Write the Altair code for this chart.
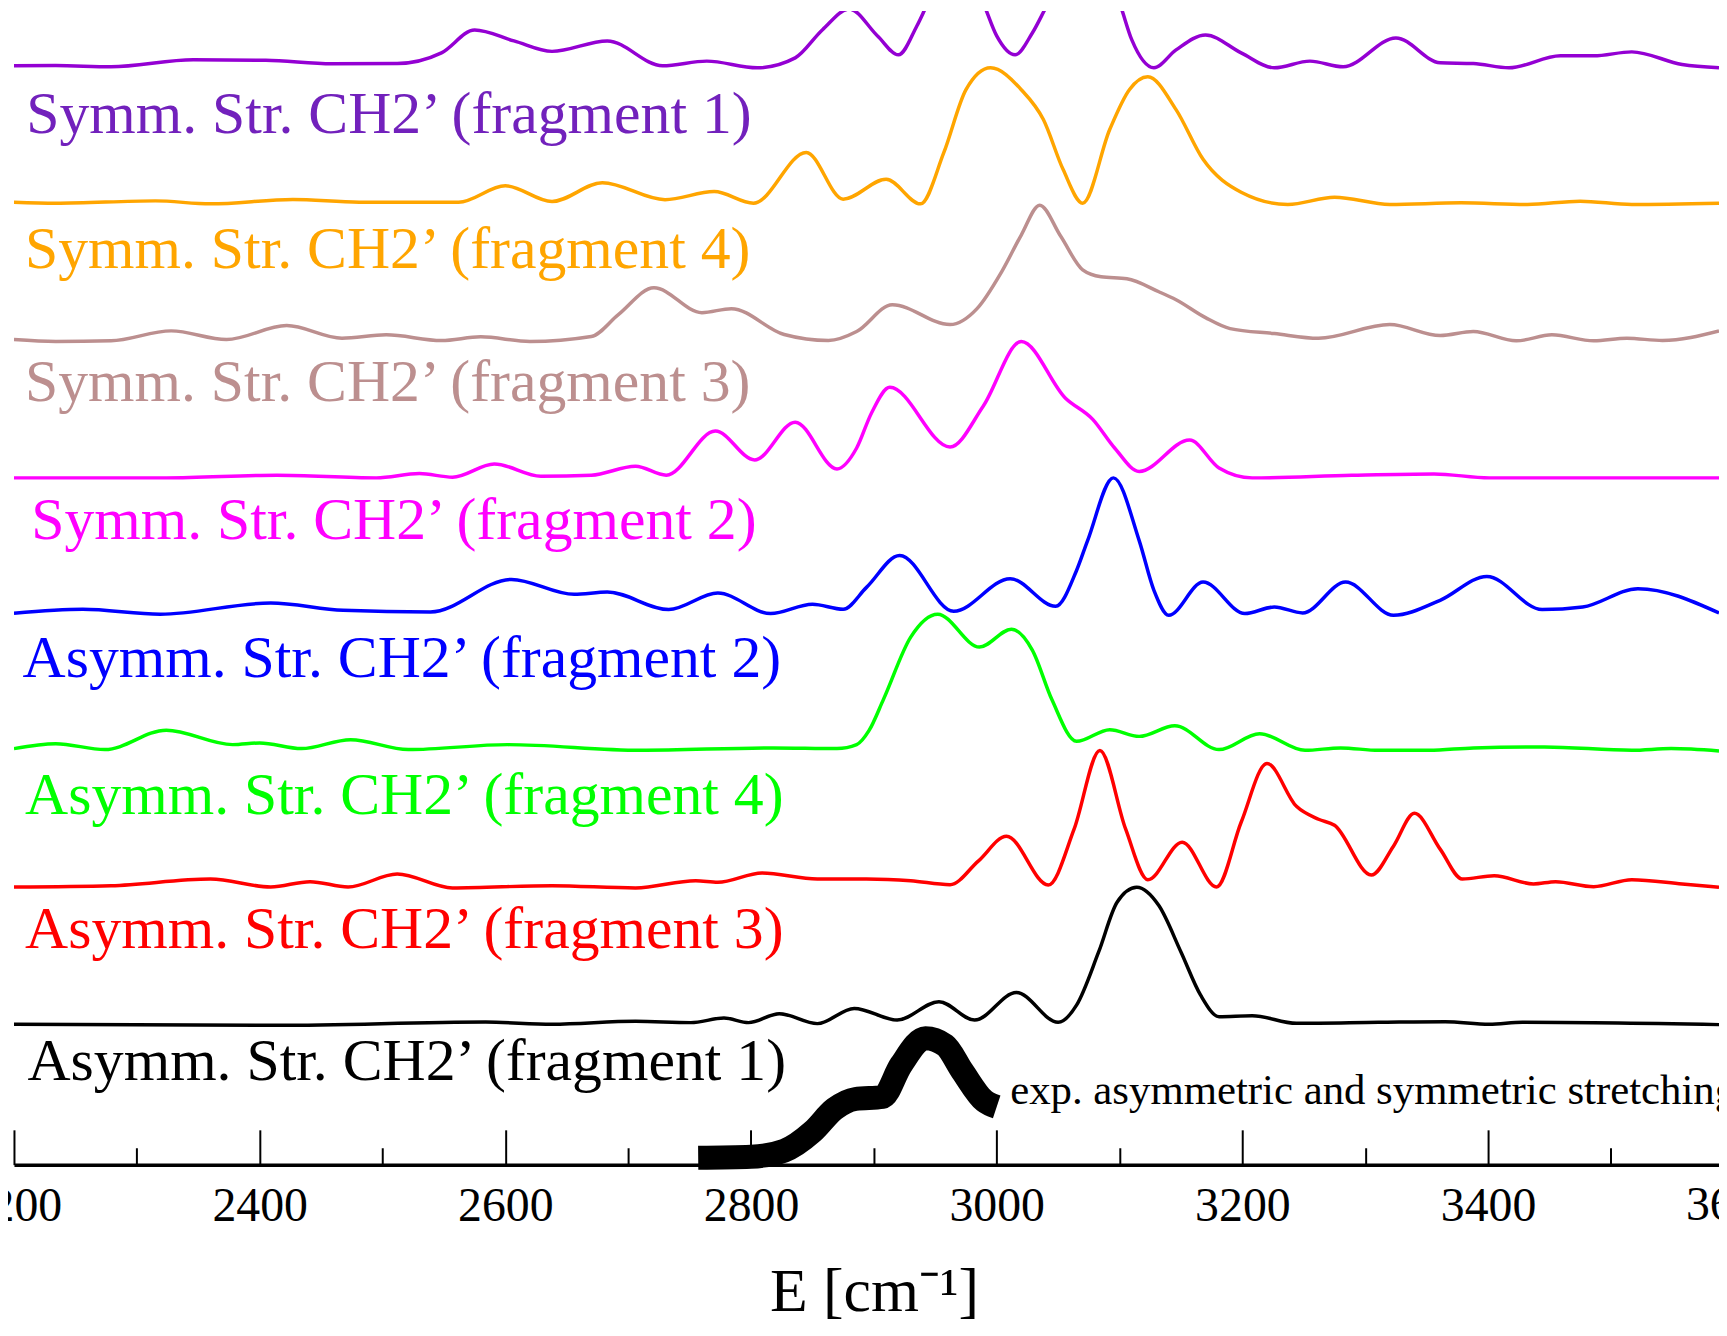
import altair as alt
import pandas as pd

FONT = "Liberation Serif"

# ---- axis ----
XMIN, XMAX = 2200, 3588
TICK_VALUES = [2200, 2400, 2600, 2800, 3000, 3200, 3400, 3600]
MINOR_TICKS = [2300, 2500, 2700, 2900, 3100, 3300, 3500]
X_TITLE = "E [cm\u207b\u00b9]"

# ---- series (top to bottom) ----
SERIES_NAMES = [
    "Symm. Str. CH2\u2019 (fragment 1)",
    "Symm. Str. CH2\u2019 (fragment 4)",
    "Symm. Str. CH2\u2019 (fragment 3)",
    "Symm. Str. CH2\u2019 (fragment 2)",
    "Asymm. Str. CH2\u2019 (fragment 2)",
    "Asymm. Str. CH2\u2019 (fragment 4)",
    "Asymm. Str. CH2\u2019 (fragment 3)",
    "Asymm. Str. CH2\u2019 (fragment 1)",
]
LINE_COLORS = ["#9400D3", "#FFA500", "#BC8F8F", "#FF00FF", "#0000FF", "#00FF00", "#FF0000", "#000000"]
TEXT_COLORS = ["#7221BC", "#FFA500", "#BC8F8F", "#FF00FF", "#0000FF", "#00FF00", "#FF0000", "#000000"]
OFFSETS = [1104, 967, 829, 690, 554, 418, 279, 141]
LABEL_X = [2210, 2209, 2209, 2214, 2207, 2209, 2209, 2211]
LABEL_Y = [1036, 901, 767, 629, 490, 352, 218, 85]

# ---- spectra (wavenumber, intensity above own baseline) ----
PURPLE_WN = [2200, 2234, 2279, 2346, 2405, 2459, 2512, 2548, 2575, 2607, 2638, 2683, 2728, 2764, 2805,
             2836, 2858, 2880, 2903, 2920, 2935, 2944, 2966, 2989, 3000, 3015, 3029, 3042, 3071, 3100,
             3110, 3128, 3146, 3170, 3199, 3226, 3255, 3282, 3325, 3361, 3388, 3417, 3459, 3486, 3517,
             3558, 3588]
PURPLE_VAL = [0, 0.3, -1, 6, 5.5, 2, 2.3, 13, 36, 25, 14.5, 25, 0, 4.7, -2,
              8, 36, 57, 30, 11, 40, 63, 110, 63, 30, 11, 33, 63, 115, 63,
              26, -2, 16, 31, 13, -2, 4.7, -1, 28, 3, 2.3, -2, 10, 10, 14,
              1.3, -2]

ORANGE_WN = [2200, 2234, 2315, 2360, 2427, 2481, 2562, 2600, 2638, 2679, 2730, 2770, 2802, 2845, 2875,
             2910, 2938, 2957, 2975, 2995, 3020, 3038, 3054, 3070, 3092, 3108, 3123, 3146, 3168, 3199,
             3237, 3275, 3320, 3378, 3432, 3475, 3517, 3588]
ORANGE_VAL = [0, -1, 1.3, -1.7, 2.7, 0, 0, 16.5, 0.7, 19.5, 2.5, 10.7, -1, 50, 3,
              23, -1.7, 50, 113, 135, 113, 83, 33, -1, 73, 113, 126, 93, 43, 10,
              -2.3, 5, -2.3, -0.7, -2.3, 1, -2.3, -1]

BROWN_WN = [2200, 2234, 2279, 2328, 2373, 2422, 2467, 2503, 2548, 2580, 2620, 2670, 2692, 2721, 2760,
            2784, 2827, 2863, 2886, 2915, 2962, 2984, 3004, 3020, 3035, 3052, 3070, 3085, 3106, 3132,
            3146, 3170, 3190, 3226, 3262, 3320, 3361, 3388, 3423, 3452, 3486, 3513, 3542, 3588]
BROWN_VAL = [0, -2, -1.3, 8.7, 0, 14, 1.3, 4.7, -1, 2.7, -2, 3, 25, 52, 27,
             31, 5, -1, 8, 35, 15, 31, 68, 105, 135, 104, 70, 63, 61, 48,
             40, 22, 11, 6, 1.3, 15, 4, 8, -1.3, 4.7, -1.3, 1.3, -1, 8.7]

MAGENTA_WN = [2200, 2324, 2414, 2495, 2530, 2557, 2591, 2629, 2670, 2706, 2731, 2771, 2803, 2836, 2870,
              2886, 2898, 2913, 2962, 2989, 3020, 3056, 3078, 3096, 3116, 3157, 3181, 3208, 3289, 3356,
              3401, 3588]
MAGENTA_VAL = [0, 0, 2.7, 0, 4.3, 0.7, 14, 1.7, 2.7, 11.7, 2.7, 47, 18, 56, 9,
               30, 65, 91, 31, 72, 137, 80, 59, 30, 6.5, 38, 10, 0, 2.7, 4,
               0, 0]

BLUE_WN = [2200, 2256, 2319, 2409, 2468, 2539, 2605, 2656, 2683, 2733, 2773, 2816, 2850, 2875, 2894,
           2921, 2965, 3011, 3048, 3065, 3074, 3095, 3116, 3128, 3140, 3168, 3202, 3226, 3249, 3284,
           3323, 3361, 3399, 3444, 3477, 3522, 3588]
BLUE_VAL = [0, 4, -1, 10.3, 3, 1.3, 34, 19, 21.3, 3.7, 20.3, -0.3, 9, 4, 26,
            58, 2, 34.7, 7, 43, 73, 136, 73, 23, -2, 31.3, -0.3, 6.3, 0.3, 31.3,
            -2, 13, 37, 3.7, 6.3, 24.7, 0.3]

GREEN_WN = [2200, 2234, 2274, 2324, 2378, 2400, 2434, 2474, 2521, 2602, 2710, 2818, 2870, 2886, 2896,
            2908, 2930, 2952, 2986, 3012, 3029, 3045, 3065, 3092, 3116, 3145, 3181, 3214, 3251, 3280,
            3311, 3352, 3388, 3446, 3517, 3549, 3588]
GREEN_VAL = [0, 5, -1, 18.5, 4, 5.7, 0, 9, -1, 4, -1.7, 0.7, 0, 4, 18,
             50, 112, 135, 102, 120, 99, 49, 7.3, 19, 12.3, 23, -1, 15, -1.7, 0.7,
             -1.7, -1.7, 0.7, 1.7, -1.7, 0, -2.3]

RED_WN = [2200, 2279, 2360, 2409, 2441, 2472, 2512, 2557, 2638, 2706, 2755, 2773, 2809, 2854, 2894,
          2930, 2962, 2985, 3008, 3042, 3063, 3084, 3105, 3123, 3151, 3179, 3199, 3220, 3244, 3262,
          3275, 3305, 3323, 3340, 3361, 3379, 3405, 3437, 3455, 3486, 3517, 3558, 3588]
RED_VAL = [0, 1.3, 8, 0, 5.3, 0, 13, -1, 1.3, -1, 6.3, 4.7, 14, 8, 8,
           6.3, 2.3, 26, 51, 2, 58, 137, 58, 7.3, 45, 0, 65, 124, 81, 68,
           62, 12, 41, 74, 38, 8, 11.3, 3, 5.3, 0.3, 7.3, 3, -0.3]

BLACK_WN = [2200, 2414, 2584, 2638, 2706, 2751, 2778, 2798, 2823, 2854, 2884, 2919, 2953, 2982, 3016,
            3050, 3065, 3083, 3098, 3114, 3132, 3150, 3166, 3181, 3208, 3244, 3311, 3365, 3401, 3428,
            3588]
BLACK_VAL = [0, -1, 2.3, 0, 3, 1.7, 6.3, 1.7, 10.7, 0.7, 16, 4.3, 22.7, 4.3, 32,
             2, 19.3, 72.7, 122.7, 137.7, 119.3, 72.7, 29.3, 7.7, 8.7, 1, 2, 2.7, 0, 2,
             -0.3]

# experimental band (value above the axis line)
EXP_WN = [2757, 2800, 2827, 2850, 2868, 2885, 2907, 2922, 2942, 2958, 2972, 2990, 3000]
EXP_VAL = [7, 8, 14, 33, 56, 66, 68, 100, 127, 120, 94, 64, 58]
EXP_LABEL = "exp. asymmetric and symmetric stretching"
EXP_LABEL_X = 3011
EXP_LABEL_Y = 61

# ---- layout ----
W, H = 1713, 1159

CURVES = [(PURPLE_WN, PURPLE_VAL), (ORANGE_WN, ORANGE_VAL), (BROWN_WN, BROWN_VAL),
          (MAGENTA_WN, MAGENTA_VAL), (BLUE_WN, BLUE_VAL), (GREEN_WN, GREEN_VAL),
          (RED_WN, RED_VAL), (BLACK_WN, BLACK_VAL)]

rows = []
for name, (wn, val), off in zip(SERIES_NAMES, CURVES, OFFSETS):
    for w, v in zip(wn, val):
        rows.append({"wn": w, "y": v + off, "series": name})
df = pd.DataFrame(rows)

lab_df = pd.DataFrame({"name": SERIES_NAMES, "x": LABEL_X, "y": LABEL_Y})
exp_df = pd.DataFrame({"wn": EXP_WN, "y": EXP_VAL})
exp_lab_df = pd.DataFrame({"x": [EXP_LABEL_X], "y": [EXP_LABEL_Y], "t": [EXP_LABEL]})
edge_vals = [v for v in TICK_VALUES if v > XMAX]
edge_df = pd.DataFrame({"v": edge_vals, "lab": [str(v) for v in edge_vals]})
major_df = pd.DataFrame({"t": TICK_VALUES})
minor_df = pd.DataFrame({"t": MINOR_TICKS})

xs = alt.Scale(domain=[XMIN, XMAX], nice=False, zero=False)
ys = alt.Scale(domain=[0, H], nice=False, zero=False)

lines = alt.Chart(df).mark_line(interpolate="monotone", strokeWidth=3.5, clip=True).encode(
    x=alt.X("wn:Q", scale=xs, axis=alt.Axis(
        orient="bottom", values=TICK_VALUES, format="d", ticks=False, tickSize=0,
        labelFlush=False, labelOverlap=False, labelFont=FONT, labelFontSize=48,
        labelColor="black", labelPadding=18, domainColor="black", domainWidth=3.5,
        grid=False, title=X_TITLE, titleFont=FONT, titleFontSize=62,
        titleFontWeight="normal", titleColor="black", titleX=864, titleY=147,
        titleBaseline="alphabetic", titleAlign="center")),
    y=alt.Y("y:Q", scale=ys, axis=None),
    color=alt.Color("series:N", scale=alt.Scale(domain=SERIES_NAMES, range=LINE_COLORS), legend=None),
)

exp_line = alt.Chart(exp_df).mark_line(
    interpolate="monotone", strokeWidth=24, color="black", strokeCap="butt"
).encode(
    x=alt.X("wn:Q", scale=xs, axis=None),
    y=alt.Y("y:Q", scale=ys, axis=None),
)

labels = alt.Chart(lab_df).mark_text(
    font=FONT, fontSize=60, align="left", baseline="alphabetic"
).encode(
    x=alt.X("x:Q", scale=xs, axis=None),
    y=alt.Y("y:Q", scale=ys, axis=None),
    text="name:N",
    color=alt.Color("name:N", scale=alt.Scale(domain=SERIES_NAMES, range=TEXT_COLORS), legend=None),
)

exp_text = alt.Chart(exp_lab_df).mark_text(
    font=FONT, fontSize=43, align="left", baseline="alphabetic", color="black"
).encode(
    x=alt.X("x:Q", scale=xs, axis=None),
    y=alt.Y("y:Q", scale=ys, axis=None),
    text="t:N",
)

edge_text = alt.Chart(edge_df).mark_text(
    font=FONT, fontSize=48, align="center", baseline="alphabetic", color="black", dy=56
).encode(
    x=alt.X("v:Q", scale=xs, axis=None),
    y=alt.datum(0, scale=ys),
    text="lab:N",
)

major = alt.Chart(major_df).mark_tick(opacity=0).encode(
    x=alt.X("t:Q", scale=xs, axis=alt.Axis(
        orient="top", offset=-H, values=TICK_VALUES, labels=False, domain=False,
        grid=False, ticks=True, tickSize=35, tickWidth=2, tickColor="black", title="")),
)

minor = alt.Chart(minor_df).mark_tick(opacity=0).encode(
    x=alt.X("t:Q", scale=xs, axis=alt.Axis(
        orient="top", offset=-H, values=MINOR_TICKS, labels=False, domain=False,
        grid=False, ticks=True, tickSize=17, tickWidth=2, tickColor="black", title="")),
)

chart = alt.layer(lines, exp_line, labels, exp_text, edge_text, major, minor).resolve_axis(
    x="independent"
).resolve_scale(
    color="independent"
).properties(
    width=W, height=H,
    autosize=alt.AutoSizeParams(type="none"),
    padding={"left": 6, "top": 0, "right": 0, "bottom": 157},
    background="white",
).configure_view(strokeWidth=0)

chart.save("out.html", embed_options={"renderer": "svg", "actions": False})
